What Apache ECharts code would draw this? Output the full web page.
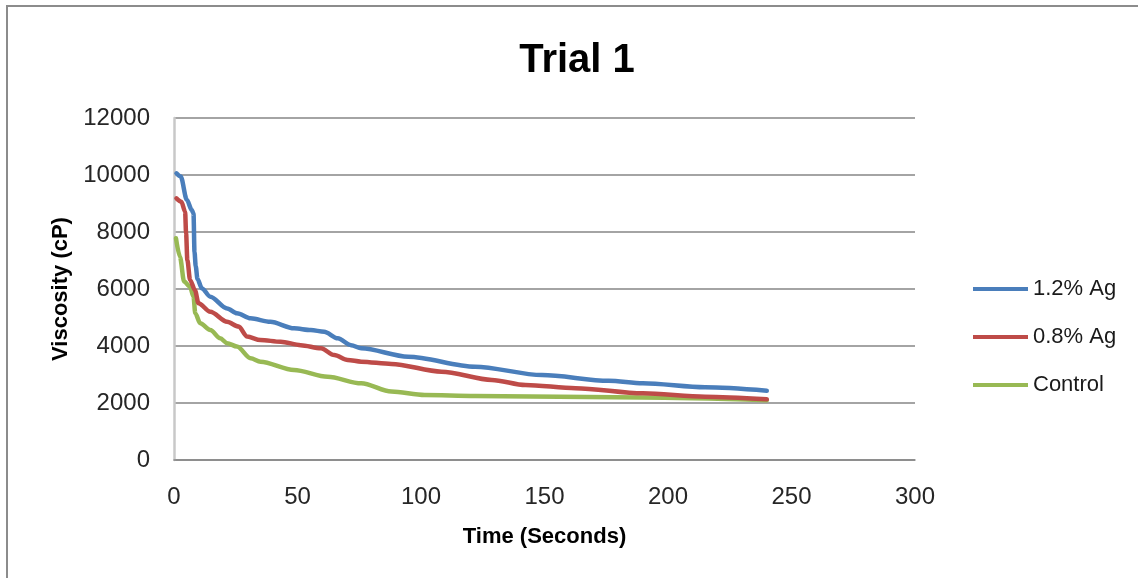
<!DOCTYPE html>
<html>
<head>
<meta charset="utf-8">
<title>Trial 1</title>
<script src="https://cdn.jsdelivr.net/npm/echarts@6/dist/echarts.min.js"></script>
<style>
  html, body { margin: 0; padding: 0; background: #ffffff; }
  #chart { width: 1138px; height: 578px; }
</style>
</head>
<body>
<div id="chart"></div>
<script>
// Viscosity readings over time for three samples
const seriesNames = ['1.2% Ag', '0.8% Ag', 'Control'];

const timeAg12 = [1, 2.7, 5.2, 7.2, 7.9, 8.3, 8.8, 9.5, 11.3, 14.7, 21.5, 25.5, 31, 39, 48.6, 55.4, 60.8, 66.3, 71.7, 75.8, 94.8, 121.9, 149, 176, 189.8, 215, 240];
const viscAg12 = [10060, 9950, 9130, 8770, 8650, 7300, 6800, 6350, 6020, 5730, 5320, 5150, 4970, 4850, 4620, 4560, 4500, 4270, 4030, 3920, 3625, 3275, 2980, 2780, 2690, 2550, 2430];

const timeAg08 = [1, 3, 4.5, 4.9, 5.4, 6.5, 8.5, 9.9, 14.7, 21.5, 26.2, 29.6, 35, 43.2, 51.3, 59.5, 64.9, 70.3, 75.8, 88, 108.3, 128.7, 142.3, 162.6, 189.8, 215, 240];
const viscAg08 = [9180, 9060, 8710, 7950, 7020, 6320, 5960, 5500, 5200, 4850, 4680, 4330, 4210, 4150, 4030, 3920, 3680, 3510, 3450, 3370, 3100, 2810, 2630, 2520, 2340, 2220, 2130];

const timeControl = [0.8, 2.4, 4.1, 6.5, 7.9, 8.6, 10.6, 14.7, 18.7, 21.5, 25.5, 31, 35, 48.6, 62.2, 75.8, 88, 101.5, 121.9, 189.8, 240];
const viscControl = [7780, 7130, 6260, 6080, 5730, 5150, 4800, 4560, 4270, 4100, 3980, 3570, 3450, 3160, 2920, 2690, 2400, 2280, 2250, 2190, 2100];

const seriesColors = ['#4a7ebb', '#be4b48', '#98b954'];

function pairs(xs, ys) {
  return xs.map((x, i) => [x, ys[i]]);
}

const seriesData = [
  pairs(timeAg12, viscAg12),
  pairs(timeAg08, viscAg08),
  pairs(timeControl, viscControl)
];

const chart = echarts.init(document.getElementById('chart'), null, { renderer: 'canvas' });

const baseFont = 'Liberation Sans, Arial, sans-serif';

chart.setOption({
  backgroundColor: '#ffffff',
  animation: false,
  title: {
    text: 'Trial 1',
    left: 572,
    top: 36,
    textAlign: 'center',
    textStyle: {
      fontFamily: baseFont,
      fontSize: 40,
      fontWeight: 'bold',
      color: '#000000'
    }
  },
  graphic: [{
    type: 'rect',
    shape: { x: 7, y: 6, width: 1200, height: 700 },
    style: { fill: 'none', stroke: '#8c8c8c', lineWidth: 2 },
    silent: true,
    z: -1
  }],
  legend: {
    orient: 'vertical',
    left: 973,
    top: 278,
    padding: 0,
    itemWidth: 55,
    itemHeight: 4,
    itemGap: 26,
    icon: 'rect',
    data: seriesNames,
    textStyle: { fontFamily: baseFont, fontSize: 22, color: '#1a1a1a' }
  },
  grid: { left: 174, right: 223, top: 118, bottom: 118 },
  xAxis: {
    type: 'value',
    min: 0,
    max: 300,
    interval: 50,
    name: 'Time (Seconds)',
    nameLocation: 'middle',
    nameGap: 66,
    nameTextStyle: { fontFamily: baseFont, fontSize: 22, fontWeight: 'bold', color: '#000000' },
    axisLine: { show: true, lineStyle: { color: '#868686', width: 1.5 } },
    axisTick: { show: false },
    splitLine: { show: false },
    axisLabel: { margin: 25, fontFamily: baseFont, fontSize: 24, color: '#262626', formatter: v => String(v) }
  },
  yAxis: {
    type: 'value',
    min: 0,
    max: 12000,
    interval: 2000,
    name: 'Viscosity (cP)',
    nameLocation: 'middle',
    nameGap: 97,
    nameTextStyle: { fontFamily: baseFont, fontSize: 22, fontWeight: 'bold', color: '#000000' },
    axisLine: { show: true, lineStyle: { color: '#c8c8c8', width: 2.5 } },
    axisTick: { show: false },
    splitLine: { show: true, lineStyle: { color: '#868686', width: 1.5 } },
    axisLabel: { margin: 24, fontFamily: baseFont, fontSize: 24, color: '#262626', formatter: v => String(v) }
  },
  series: seriesNames.map((name, i) => ({
    name: name,
    type: 'line',
    data: seriesData[i],
    showSymbol: false,
    smooth: 0.3,
    smoothMonotone: 'x',
    color: seriesColors[i],
    lineStyle: { width: 4.5, color: seriesColors[i], cap: 'round', join: 'round' },
    z: 3 - i
  }))
});
</script>
</body>
</html>
